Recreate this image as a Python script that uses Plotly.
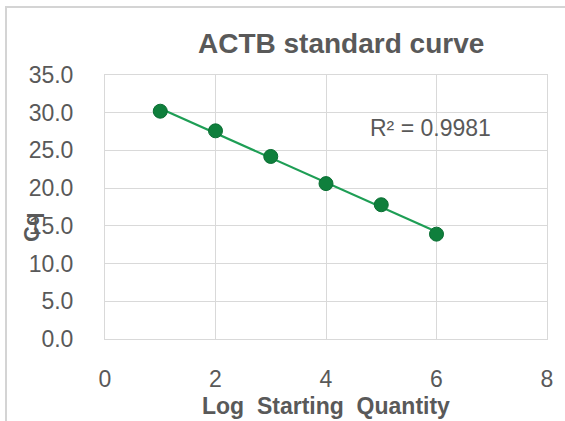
import numpy as np
import plotly.graph_objects as go

# Data
log_qty = [1, 2, 3, 4, 5, 6]
cq = [30.2, 27.6, 24.2, 20.6, 17.8, 13.9]
r2_label = "R² = 0.9981"
title_text = "ACTB standard curve"
x_title = "Log\u00a0 Starting\u00a0 Quantity"
y_title = "Cq"

# Linear trendline (least squares)
slope, intercept = np.polyfit(log_qty, cq, 1)
trend_x = [min(log_qty), max(log_qty)]
trend_y = [slope * v + intercept for v in trend_x]

FONT = "Liberation Sans, Arial, sans-serif"
GRAY = "#595959"
GRID = "#d9d9d9"

fig = go.Figure()
fig.add_trace(go.Scatter(x=trend_x, y=trend_y, mode="lines",
                         line=dict(color="#1e9e55", width=2.2),
                         hoverinfo="skip", showlegend=False))
fig.add_trace(go.Scatter(x=log_qty, y=cq, mode="markers",
                         marker=dict(color="#0f7f3c", size=14,
                                     line=dict(color="#0a6e33", width=1)),
                         showlegend=False))

fig.update_layout(
    width=565, height=421,
    margin=dict(l=105, r=18, t=75, b=82, autoexpand=False),
    paper_bgcolor="white", plot_bgcolor="white",
    font=dict(family=FONT, color=GRAY, size=22),
    shapes=[dict(type="rect", xref="paper", yref="paper",
                 x0=-99/442, x1=1.2, y0=-0.5, y1=1 + 68/264,
                 line=dict(color="#d4d4d4", width=2), layer="below")],
    annotations=[
        dict(text=title_text, xref="paper", yref="paper",
             x=(341 - 105) / 442, y=1, yshift=32, xanchor="center", yanchor="middle",
             showarrow=False, font=dict(size=28, color=GRAY, family=FONT, weight="bold")),
        dict(text=x_title, xref="paper", yref="paper",
             x=0.5, y=0, yshift=-67, xanchor="center", yanchor="middle",
             showarrow=False, font=dict(size=23, color=GRAY, family=FONT, weight="bold")),
        dict(text=y_title, xref="paper", yref="paper", textangle=-90,
             x=0, xshift=-74, y=(339 - 228) / 264, xanchor="center", yanchor="middle",
             showarrow=False, font=dict(size=22, color=GRAY, family=FONT, weight="bold")),
        dict(text=r2_label, xref="paper", yref="paper",
             x=(430 - 105) / 442, y=(339 - 128) / 264, xanchor="center", yanchor="middle",
             showarrow=False, font=dict(size=23, color=GRAY, family=FONT)),
    ],
)
fig.update_xaxes(range=[0, 8], dtick=2, tick0=0, showgrid=True, gridcolor=GRID, gridwidth=1,
                 zeroline=False, showline=True, linecolor=GRID, linewidth=1, mirror=True,
                 ticks="", ticklabelstandoff=19, tickfont=dict(size=23, color=GRAY))
fig.update_yaxes(range=[0, 35], dtick=5, tick0=0, tickformat=".1f", showgrid=True,
                 gridcolor=GRID, gridwidth=1, zeroline=False, showline=True,
                 linecolor=GRID, linewidth=1, mirror=True, ticks="",
                 ticklabelstandoff=26, tickfont=dict(size=23, color=GRAY))

fig.write_html("out.html", config={"displayModeBar": False},
               post_script="document.body.style.margin='0';document.body.style.overflow='hidden';")
